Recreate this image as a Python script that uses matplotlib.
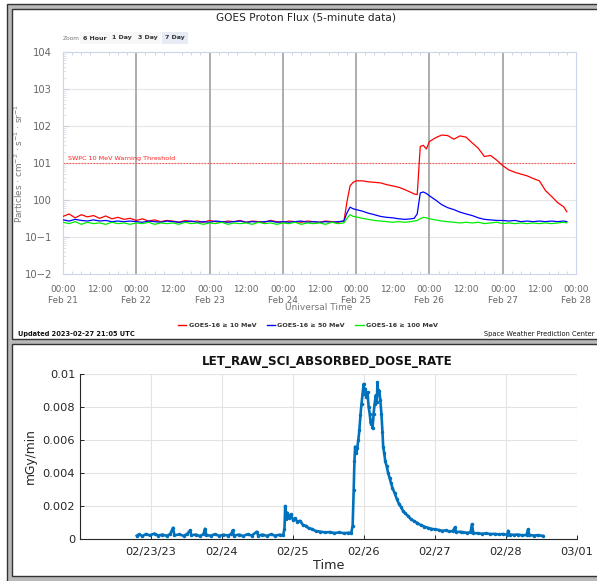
#!/usr/bin/env python3

import matplotlib

matplotlib.use("Agg")

import matplotlib.pyplot as plt
import pandas as pd
from matplotlib.lines import Line2D
from matplotlib.patches import Rectangle
from matplotlib.ticker import FixedLocator, LogLocator, NullFormatter

W, H = 597, 581

# ---- GOES proton flux (hours after 2023-02-21 00:00 UTC) ----
goes_hours = (
    list(range(0, 93, 2))
    + [93, 94, 95, 96]
    + [98, 100, 102, 104, 106, 108, 110, 112, 114]
    + [115, 116, 117, 118, 119, 120]
    + list(range(122, 165, 2))
    + [165]
)

flux_10mev = (
    [0.36, 0.42, 0.33, 0.40, 0.35, 0.38, 0.32, 0.37, 0.31, 0.34, 0.30, 0.32,
     0.28, 0.31, 0.27, 0.29, 0.26, 0.28, 0.27, 0.25, 0.28, 0.26, 0.27, 0.25,
     0.28, 0.26, 0.25, 0.27, 0.26, 0.28, 0.25, 0.27, 0.26, 0.25, 0.28, 0.26,
     0.25, 0.27, 0.26, 0.25, 0.27, 0.26, 0.25, 0.27, 0.26, 0.25, 0.27]
    + [0.9, 2.4, 3.0, 3.3]
    + [3.3, 3.1, 3.0, 2.9, 2.6, 2.4, 2.2, 1.9, 1.6]
    + [1.45, 1.4, 28, 30, 24, 38]
    + [48, 57, 55, 44, 54, 50, 35, 25, 15, 16, 12, 8.5, 6.5, 5.6, 5.0, 4.5,
       3.8, 3.3, 1.8, 1.25, 0.85, 0.65]
    + [0.48]
)

flux_50mev = (
    [0.29, 0.27, 0.30, 0.28, 0.27, 0.29, 0.27, 0.28, 0.26, 0.27, 0.26, 0.27,
     0.26, 0.25, 0.27, 0.26, 0.25, 0.27, 0.26, 0.25, 0.26, 0.27, 0.25, 0.26,
     0.25, 0.27, 0.26, 0.25, 0.26, 0.27, 0.25, 0.26, 0.25, 0.26, 0.27, 0.25,
     0.26, 0.25, 0.26, 0.27, 0.25, 0.26, 0.25, 0.26, 0.25, 0.26, 0.27]
    + [0.45, 0.64, 0.58, 0.55]
    + [0.50, 0.44, 0.40, 0.36, 0.34, 0.33, 0.31, 0.30, 0.31]
    + [0.32, 0.42, 1.55, 1.65, 1.5, 1.3]
    + [1.0, 0.75, 0.62, 0.55, 0.47, 0.42, 0.38, 0.33, 0.30, 0.29, 0.28, 0.28,
       0.27, 0.28, 0.26, 0.27, 0.26, 0.27, 0.26, 0.27, 0.26, 0.27]
    + [0.26]
)

flux_100mev = (
    [0.25, 0.23, 0.26, 0.22, 0.25, 0.23, 0.24, 0.22, 0.25, 0.23, 0.24, 0.22,
     0.24, 0.23, 0.25, 0.22, 0.24, 0.23, 0.24, 0.22, 0.25, 0.23, 0.24, 0.22,
     0.24, 0.23, 0.25, 0.22, 0.24, 0.23, 0.24, 0.22, 0.25, 0.23, 0.24, 0.22,
     0.24, 0.23, 0.25, 0.22, 0.24, 0.23, 0.24, 0.22, 0.25, 0.23, 0.24]
    + [0.32, 0.40, 0.36, 0.35]
    + [0.32, 0.30, 0.28, 0.27, 0.26, 0.25, 0.26, 0.25, 0.26]
    + [0.27, 0.28, 0.31, 0.34, 0.33, 0.31]
    + [0.29, 0.27, 0.26, 0.25, 0.24, 0.25, 0.24, 0.25, 0.23, 0.24, 0.25, 0.23,
       0.24, 0.23, 0.24, 0.23, 0.24, 0.23, 0.24, 0.23, 0.24, 0.25]
    + [0.24]
)

goes_labels = ["GOES-16 \u2265 10 MeV", "GOES-16 \u2265 50 MeV", "GOES-16 \u2265 100 MeV"]
goes_colors = ["#ff0000", "#0000ff", "#00ee00"]
flux_ticks = [1e-2, 1e-1, 1e0, 1e1, 1e2, 1e3, 1e4]
flux_tick_labels = ["10\u22122", "10\u22121", "100", "101", "102", "103", "104"]
threshold = 10

# ---- LET absorbed dose rate (days after 2023-02-22 00:00) ----
dose_days = [
    0.80, 0.83, 0.88, 0.93, 0.98, 1.05, 1.10, 1.16, 1.22, 1.27, 1.31, 1.33,
    1.40, 1.46, 1.51, 1.55, 1.57, 1.63, 1.69, 1.74, 1.76, 1.78, 1.84, 1.90,
    1.96, 2.02, 2.08, 2.13, 2.15, 2.17, 2.24, 2.30, 2.36, 2.42, 2.49, 2.51,
    2.57, 2.63, 2.69, 2.75, 2.81, 2.86,
    2.88, 2.89, 2.90, 2.92, 2.94, 2.97, 3.00, 3.03, 3.06, 3.10, 3.14, 3.18,
    3.22, 3.27, 3.32, 3.38, 3.45, 3.52, 3.58, 3.65, 3.72, 3.78, 3.82,
    3.84, 3.855, 3.865, 3.875, 3.89, 3.905, 3.92, 3.935, 3.95, 3.965, 3.98,
    3.995, 4.005, 4.02, 4.035, 4.05, 4.065, 4.08, 4.095, 4.11, 4.12, 4.135,
    4.15, 4.165, 4.18, 4.19, 4.20, 4.215, 4.23, 4.245, 4.26, 4.27, 4.285,
    4.30, 4.32, 4.34, 4.36, 4.38, 4.40, 4.43, 4.46, 4.49, 4.52, 4.55, 4.58,
    4.62, 4.66, 4.70, 4.74, 4.75, 4.80, 4.85, 4.90, 4.95, 5.00, 5.05, 5.10,
    5.15, 5.20, 5.25, 5.28, 5.30, 5.36, 5.40, 5.45, 5.50, 5.52, 5.54, 5.60,
    5.66, 5.72, 5.78, 5.84, 5.90, 5.96, 6.02, 6.03, 6.05, 6.11, 6.17, 6.23,
    6.29, 6.31, 6.33, 6.39, 6.45, 6.52,
]

dose_rate = [
    0.00020, 0.00028, 0.00018, 0.00030, 0.00022, 0.00033, 0.00020, 0.00027,
    0.00019, 0.00030, 0.00068, 0.00022, 0.00028, 0.00019, 0.00031, 0.00052,
    0.00022, 0.00027, 0.00018, 0.00030, 0.00062, 0.00024, 0.00020, 0.00029,
    0.00019, 0.00026, 0.00021, 0.00030, 0.00052, 0.00020, 0.00027, 0.00018,
    0.00029, 0.00021, 0.00044, 0.00020, 0.00027, 0.00019, 0.00028, 0.00020,
    0.00026, 0.00022,
    0.00060, 0.00200, 0.00120, 0.00160, 0.00130, 0.00150, 0.00115, 0.00125,
    0.00105, 0.00110, 0.00085, 0.00080, 0.00065, 0.00060, 0.00048, 0.00045,
    0.00040, 0.00042, 0.00036, 0.00040, 0.00035, 0.00038, 0.00036,
    0.00080, 0.00300, 0.00470, 0.00560, 0.00520, 0.00550, 0.00600, 0.00660,
    0.00750, 0.00820, 0.00880, 0.00940, 0.00880, 0.00910, 0.00860, 0.00890,
    0.00800, 0.00760, 0.00700, 0.00720, 0.00670, 0.00760, 0.00820, 0.00870,
    0.00830, 0.00950, 0.00880, 0.00900, 0.00840, 0.00760, 0.00650, 0.00560,
    0.00520, 0.00470, 0.00440, 0.00400, 0.00370, 0.00340, 0.00310, 0.00280,
    0.00245, 0.00215, 0.00195, 0.00170, 0.00155, 0.00140, 0.00120, 0.00110,
    0.00100, 0.00095, 0.00085, 0.00075, 0.00068, 0.00062, 0.00058, 0.00055,
    0.00050, 0.00052, 0.00046, 0.00048, 0.00070, 0.00042, 0.00044, 0.00040,
    0.00038, 0.00040, 0.00090, 0.00036, 0.00035, 0.00032, 0.00034, 0.00030,
    0.00031, 0.00028, 0.00030, 0.00026, 0.00050, 0.00027, 0.00025, 0.00027,
    0.00022, 0.00025, 0.00058, 0.00024, 0.00021, 0.00023, 0.00019,
]

dose_ticks = [0, 0.002, 0.004, 0.006, 0.008, 0.01]
dose_tick_labels = ["0", "0.002", "0.004", "0.006", "0.008", "0.01"]
dose_date_labels = ["02/23/23", "02/24", "02/25", "02/26", "02/27", "02/28", "03/01"]


def px_rect(x, y, w, h):
    """Figure-fraction rect from pixel box measured from the top-left."""
    return [x / W, 1 - (y + h) / H, w / W, h / H]


def fx(x):
    return x / W


def fy(y):
    return 1 - y / H


fig = plt.figure(figsize=(W / 100, H / 100), dpi=100)

# panel frames
for box, face in [((7, 4, 600, 584), "#b9b9b9"), ((12, 9, 600, 330), "white"), ((12, 344, 600, 232), "white")]:
    x, y, w, h = box
    l, b, ww, hh = px_rect(x, y, w, h)
    fig.patches.append(
        Rectangle((l, b), ww, hh, transform=fig.transFigure, facecolor=face,
                  edgecolor="#333333", linewidth=1.0, zorder=-10)
    )

# ---------------- top: GOES proton flux ----------------
start = pd.Timestamp("2023-02-21")
goes_time = start + pd.to_timedelta(goes_hours, unit="h")

ax1 = fig.add_axes(px_rect(63, 52, 513, 222))
ax1.set_yscale("log")
ax1.set_ylim(1e-2, 1e4)
ax1.set_xlim(start, start + pd.Timedelta(days=7))

for day in range(1, 7):
    ax1.axvline(start + pd.Timedelta(days=day), color="#a6a6a6", linewidth=1.3, zorder=1)
for value in flux_ticks[1:-1]:
    ax1.axhline(value, color="#e6e6e6", linewidth=0.8, zorder=0)

for values, color, label in zip([flux_10mev, flux_50mev, flux_100mev], goes_colors, goes_labels):
    ax1.plot(goes_time, values, color=color, linewidth=0.9, label=label, zorder=3)

ax1.axhline(threshold, color="#ff5555", linewidth=0.8, linestyle=(0, (1.5, 1.2)), zorder=2)
ax1.annotate("SWPC 10 MeV Warning Threshold", (start + pd.Timedelta(hours=1.5), threshold),
             xytext=(0, 1.5), textcoords="offset points", color="#ff2020", fontsize=4.6,
             va="bottom", ha="left")

major_times = [start + pd.Timedelta(hours=12 * i) for i in range(15)]
major_labels = [f"00:00\n{(start + pd.Timedelta(hours=12 * i)).strftime('%b %d').replace(' 0', ' ')}"
                if i % 2 == 0 else "12:00" for i in range(15)]
ax1.xaxis.set_major_locator(FixedLocator(matplotlib.dates.date2num(major_times)))
ax1.set_xticklabels(major_labels)
ax1.xaxis.set_minor_locator(FixedLocator(matplotlib.dates.date2num(
    [start + pd.Timedelta(hours=3 * i) for i in range(57)])))
ax1.tick_params(axis="x", which="major", length=0, pad=8, labelsize=6.4, labelcolor="#666666")
ax1.tick_params(axis="x", which="minor", length=2.5, direction="in", color="#c8d0e0",
                top=True, bottom=True, width=0.6)
for lab in ax1.get_xticklabels():
    lab.set_linespacing(1.25)

ax1.set_yticks(flux_ticks)
ax1.set_yticklabels(flux_tick_labels)
ax1.yaxis.set_minor_locator(LogLocator(base=10, subs=range(2, 10), numticks=20))
ax1.yaxis.set_minor_formatter(NullFormatter())
ax1.tick_params(axis="y", which="major", length=4, direction="in", color="#c8d0e0",
                labelsize=7.2, labelcolor="#666666", pad=8)
ax1.tick_params(axis="y", which="minor", length=2, direction="in", color="#d4dbe8", width=0.5)
for spine in ax1.spines.values():
    spine.set_color("#ccd6eb")
    spine.set_linewidth(0.8)

ax1.set_ylabel("Particles \u00b7 cm$^{-2}$ \u00b7 s$^{-1}$ \u00b7 sr$^{-1}$", fontsize=6.4,
               color="#777777")
ax1.yaxis.set_label_coords(-0.075, 0.5)
fig.text(fx(319), fy(307), "Universal Time", fontsize=6.5, color="#777777", ha="center", va="center")
fig.text(fx(306), fy(18), "GOES Proton Flux (5-minute data)", fontsize=7.6, color="#222222",
         ha="center", va="center")

# zoom buttons
fig.text(fx(63), fy(38), "Zoom", fontsize=4.2, color="#777777", ha="left", va="center")
for cx, text, face in [(95, "6 Hour", "#f7f7f7"), (122, "1 Day", "#f7f7f7"),
                       (148, "3 Day", "#f7f7f7"), (175, "7 Day", "#e6ebf5")]:
    fig.text(fx(cx), fy(38), text, fontsize=4.5, color="#333333", ha="center", va="center",
             fontweight="bold",
             bbox=dict(boxstyle="square,pad=0.5", facecolor=face, edgecolor="none"))

handles = [Line2D([], [], color=c, linewidth=1.0) for c in goes_colors]
fig.legend(handles, goes_labels, loc="center", bbox_to_anchor=(fx(308), fy(325)), ncol=3,
           frameon=False, prop={"size": 4.6, "weight": "bold"}, handlelength=1.3,
           handletextpad=0.4, columnspacing=1.6, labelcolor="#333333")

fig.text(fx(18), fy(334), "Updated 2023-02-27 21:05 UTC", fontsize=4.8, fontweight="bold",
         color="#111111", ha="left", va="center")
fig.text(fx(595), fy(334), "Space Weather Prediction Center", fontsize=4.8, color="#111111",
         ha="right", va="center")

# ---------------- bottom: LET dose rate ----------------
dose_start = pd.Timestamp("2023-02-22")
dose_time = dose_start + pd.to_timedelta(dose_days, unit="D")

ax2 = fig.add_axes(px_rect(80, 374, 497, 165))
ax2.plot(dose_time, dose_rate, color="#0072bd", linewidth=1.9, marker=".", markersize=3, zorder=3)
ax2.set_xlim(dose_start, dose_start + pd.Timedelta(days=7))
ax2.set_ylim(0, 0.01)

date_ticks = [dose_start + pd.Timedelta(days=d) for d in range(1, 8)]
ax2.set_xticks(date_ticks)
ax2.set_xticklabels(dose_date_labels)
ax2.set_yticks(dose_ticks)
ax2.set_yticklabels(dose_tick_labels)
ax2.grid(True, color="#e3e3e3", linewidth=0.8)
ax2.set_axisbelow(True)
for side in ["top", "right"]:
    ax2.spines[side].set_visible(False)
for side in ["left", "bottom"]:
    ax2.spines[side].set_color("#262626")
    ax2.spines[side].set_linewidth(0.8)
ax2.tick_params(direction="in", length=3, color="#262626", labelsize=8.2, labelcolor="#262626",
                width=0.7)
ax2.tick_params(axis="x", pad=6)
ax2.set_ylabel("mGy/min", fontsize=8.8, color="#262626", labelpad=4)
ax2.set_xlabel("Time", fontsize=9.2, color="#262626", labelpad=1)
fig.text(fx(327), fy(362), "LET_RAW_SCI_ABSORBED_DOSE_RATE", fontsize=8.6, fontweight="bold",
         color="#111111", ha="center", va="center")

fig.savefig("out.png", dpi=100)
